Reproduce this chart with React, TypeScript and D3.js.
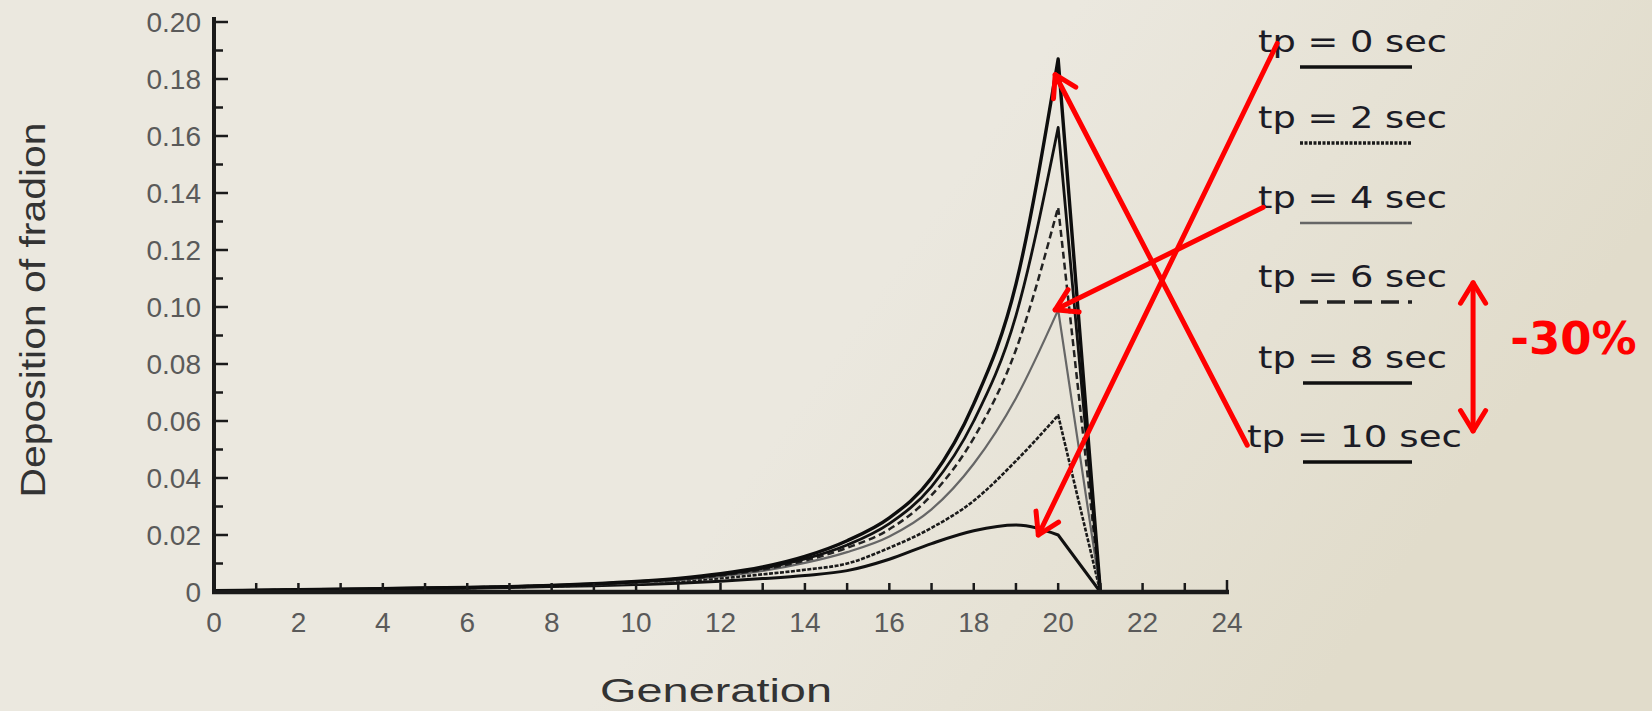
import React from 'react';
import * as d3 from 'd3';

// generations on the x axis
const generations = [0, 1, 2, 3, 4, 5, 6, 7, 8, 9, 10, 11, 12, 13, 14, 15, 16, 17, 18, 19, 20, 21];

// deposition fraction per generation, one array per pause time
const tp0 = [0.0004, 0.0005, 0.0006, 0.0008, 0.0009, 0.0011, 0.0013, 0.0016, 0.0019, 0.0022, 0.0026, 0.0031, 0.0038, 0.0047, 0.0058, 0.0075, 0.0115, 0.017, 0.0215, 0.0235, 0.020, 0];
const tp2 = [0.0004, 0.0005, 0.0007, 0.0008, 0.001, 0.0012, 0.0014, 0.0017, 0.002, 0.0024, 0.003, 0.0038, 0.0048, 0.0062, 0.0078, 0.010, 0.0155, 0.0225, 0.032, 0.046, 0.062, 0];
const tp4 = [0.0005, 0.0006, 0.0007, 0.0009, 0.0011, 0.0013, 0.0015, 0.0018, 0.0022, 0.0027, 0.0033, 0.0042, 0.0055, 0.0074, 0.0102, 0.014, 0.0195, 0.029, 0.045, 0.068, 0.099, 0];
const tp6 = [0.0005, 0.0006, 0.0008, 0.0009, 0.0011, 0.0013, 0.0016, 0.0019, 0.0023, 0.0028, 0.0035, 0.0044, 0.0058, 0.0079, 0.011, 0.0155, 0.022, 0.034, 0.054, 0.085, 0.135, 0];
const tp8 = [0.0005, 0.0006, 0.0008, 0.001, 0.0012, 0.0014, 0.0016, 0.0019, 0.0023, 0.0028, 0.0036, 0.0046, 0.0061, 0.0083, 0.0116, 0.0165, 0.024, 0.037, 0.060, 0.097, 0.163, 0];
const tp10 = [0.0005, 0.0006, 0.0008, 0.001, 0.0012, 0.0014, 0.0016, 0.0019, 0.0023, 0.0029, 0.0037, 0.0048, 0.0064, 0.0088, 0.0125, 0.018, 0.026, 0.040, 0.066, 0.108, 0.187, 0];

const legendLabels = ['tp = 0 sec', 'tp = 2 sec', 'tp = 4 sec', 'tp = 6 sec', 'tp = 8 sec', 'tp = 10 sec'];
const xTicks = [0, 2, 4, 6, 8, 10, 12, 14, 16, 18, 20, 22, 24];
const yTicks = [0, 0.02, 0.04, 0.06, 0.08, 0.10, 0.12, 0.14, 0.16, 0.18, 0.20];

// red annotation arrows, in data units [gen, value] -> [gen, value] (tip)
const arrows = [
  { from: [25.19, 0.1925], to: [19.53, 0.0200] },
  { from: [24.86, 0.1350], to: [19.93, 0.0990] },
  { from: [24.48, 0.0515], to: [19.93, 0.1815] },
];
const spanArrow = { gen: 29.83, top: 0.1085, bottom: 0.0565 };
const spanLabel = { gen: 30.71, value: 0.0835, text: '-30%' };

const series = [tp0, tp2, tp4, tp6, tp8, tp10];
const styles = [
  { stroke: '#111', width: 3, dash: null },
  { stroke: '#1a1a1a', width: 2.6, dash: '4,1.5' },
  { stroke: '#666', width: 2.2, dash: null },
  { stroke: '#222', width: 2.5, dash: '7,4' },
  { stroke: '#111', width: 2.8, dash: null },
  { stroke: '#0d0d0d', width: 3.4, dash: null },
];

const x = d3.scaleLinear().domain([0, 24]).range([214, 1227]);
const y = d3.scaleLinear().domain([0, 0.2]).range([592, 22]);

function ArrowHead({ x1, y1, x2, y2 }) {
  const a = Math.atan2(y2 - y1, x2 - x1);
  const len = 24;
  const spread = 0.55;
  const p1 = [x2 - len * Math.cos(a - spread), y2 - len * Math.sin(a - spread)];
  const p2 = [x2 - len * Math.cos(a + spread), y2 - len * Math.sin(a + spread)];
  return (
    <path d={`M${p1[0]},${p1[1]}L${x2},${y2}L${p2[0]},${p2[1]}`} fill="none"
      stroke="#ff0000" strokeWidth={5} strokeLinecap="round" strokeLinejoin="round" />
  );
}

export default function App() {
  // smooth rise up to generation 20, then a straight drop to the last point
  const smooth = d3.line<number>()
    .x((_, i) => x(generations[i]))
    .y(d => y(d))
    .curve(d3.curveMonotoneX);

  const curvePath = (s: number[]) => {
    const n = s.length - 1;
    const head = smooth(s.slice(0, n)) || '';
    return `${head}L${x(generations[n])},${y(s[n])}`;
  };

  const minorY = d3.range(0, 21).map(i => i * 0.01);
  const minorX = d3.range(0, 25);

  const legendBase = [52, 128, 208, 287, 368, 447];
  const legendX = [1258, 1258, 1258, 1258, 1258, 1247];
  const legendLen = [189, 189, 189, 189, 189, 215];

  return (
    <svg width={1652} height={711} style={{ position: 'absolute', left: 0, top: 0 }}>
      <defs>
        <linearGradient id="paper" x1="0" y1="0" x2="1" y2="0.3">
          <stop offset="0" stopColor="#ebe8df" />
          <stop offset="0.6" stopColor="#ebe8df" />
          <stop offset="1" stopColor="#e1dccb" />
        </linearGradient>
      </defs>
      <rect width={1652} height={711} fill="url(#paper)" />

      {/* curves */}
      <g fill="none" strokeLinejoin="round">
        {series.map((s, i) => (
          <path key={i} d={curvePath(s)} stroke={styles[i].stroke}
            strokeWidth={styles[i].width} strokeDasharray={styles[i].dash || undefined} />
        ))}
      </g>

      {/* axes */}
      <g stroke="#1a1a1a">
        <line x1={x(0)} x2={x(0)} y1={y(0) + 2} y2={y(0.2) - 5} strokeWidth={4} />
        <line x1={x(0) - 2} x2={x(24) + 2} y1={y(0)} y2={y(0)} strokeWidth={4.5} />
        {minorY.map((v, i) => (
          <line key={'yt' + i} x1={x(0)} x2={x(0) + (i % 2 === 0 ? 14 : 9)} y1={y(v)} y2={y(v)} strokeWidth={2.5} />
        ))}
        {minorX.map(g => (
          <line key={'xt' + g} x1={x(g)} x2={x(g)} y1={y(0)} y2={y(0) - (g === 24 ? 12 : 9)} strokeWidth={2.5} />
        ))}
      </g>

      <g fontFamily="Liberation Sans, Arial, sans-serif" fill="#5a5a5a" fontSize={28}>
        {yTicks.map(v => (
          <text key={'yl' + v} x={x(0) - 13} y={y(v)} dy="0.35em" textAnchor="end">
            {v === 0 ? '0' : d3.format('.2f')(v)}
          </text>
        ))}
        {xTicks.map(g => (
          <text key={'xl' + g} x={x(g)} y={y(0) + 30} dy="0.35em" textAnchor="middle"
            fontFamily="Liberation Sans Narrow, Liberation Sans, Arial, sans-serif">
            {g}
          </text>
        ))}
      </g>

      <text x={716} y={702} textAnchor="middle" fontFamily="Liberation Sans, Arial, sans-serif"
        fontSize={33} fill="#333" textLength={232} lengthAdjust="spacingAndGlyphs">Generation</text>
      <text transform="translate(45,310) rotate(-90)" textAnchor="middle"
        fontFamily="Liberation Sans, Arial, sans-serif" fontSize={35} fill="#333"
        textLength={375} lengthAdjust="spacingAndGlyphs">Deposition of fradion</text>

      {/* legend */}
      <g fontFamily="DejaVu Sans, Verdana, sans-serif" fontSize={30} fill="#1c1c26">
        {legendLabels.map((t, i) => (
          <g key={t}>
            <text x={legendX[i]} y={legendBase[i]} textLength={legendLen[i]} lengthAdjust="spacingAndGlyphs">{t}</text>
            <line x1={i >= 4 ? 1303 : 1300} x2={1412} y1={legendBase[i] + 15} y2={legendBase[i] + 15}
              stroke={styles[i].stroke} strokeWidth={i === 2 ? 2.5 : 3.5}
              strokeDasharray={i === 1 ? '3,1.5' : i === 3 ? '18,9' : undefined} />
          </g>
        ))}
      </g>

      {/* red annotations */}
      <g stroke="#ff0000" strokeWidth={5} strokeLinecap="round" fill="none">
        {arrows.map((a, i) => {
          const x1 = x(a.from[0]), y1 = y(a.from[1]), x2 = x(a.to[0]), y2 = y(a.to[1]);
          return (
            <g key={'ar' + i}>
              <line x1={x1} y1={y1} x2={x2} y2={y2} />
              <ArrowHead x1={x1} y1={y1} x2={x2} y2={y2} />
            </g>
          );
        })}
        <line x1={x(spanArrow.gen)} x2={x(spanArrow.gen)} y1={y(spanArrow.top)} y2={y(spanArrow.bottom)} />
        <ArrowHead x1={x(spanArrow.gen)} y1={y(spanArrow.bottom)} x2={x(spanArrow.gen)} y2={y(spanArrow.top)} />
        <ArrowHead x1={x(spanArrow.gen)} y1={y(spanArrow.top)} x2={x(spanArrow.gen)} y2={y(spanArrow.bottom)} />
      </g>
      <text x={x(spanLabel.gen)} y={y(spanLabel.value)} fontFamily="DejaVu Sans, Verdana, sans-serif"
        fontWeight="bold" fontSize={45} fill="#ff0000">{spanLabel.text}</text>
    </svg>
  );
}
